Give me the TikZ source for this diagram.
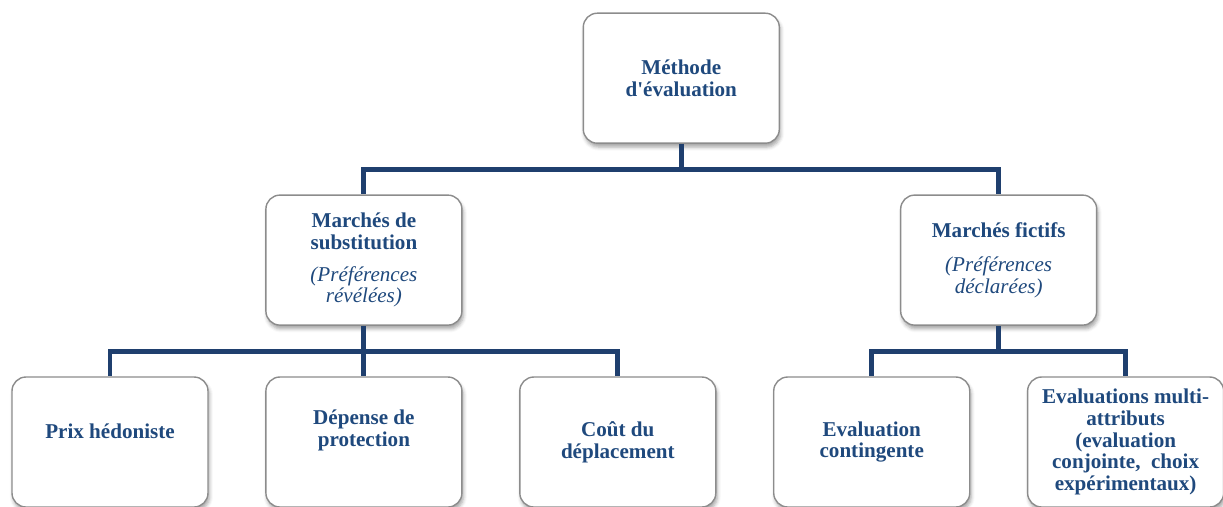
\documentclass[tikz,border=0pt]{standalone}
\usepackage{fontspec}
\setmainfont{Liberation Serif}
\usepackage{xcolor}
\usepackage{tikz}
\usetikzlibrary{positioning, calc, shadows.blur}
\definecolor{titleblue}{HTML}{1F497D}
\definecolor{linkblue}{HTML}{1F3F6E}
\definecolor{boxgray}{HTML}{8C8C8C}

\begin{document}
\begin{tikzpicture}[
        node distance=1.01cm and 1.13cm,
        box/.style={
            rectangle, rounded corners=0.28cm, draw=boxgray, line width=0.8pt,
            fill=white, text=titleblue,
            minimum width=3.92cm, minimum height=2.6cm,
            align=center, font=\fontsize{12}{12.4}\selectfont\bfseries,
            blur shadow={shadow xshift=0.8pt, shadow yshift=-2.2pt,
                shadow blur radius=2pt, shadow opacity=35},
        },
        lifted/.style={text depth=#1},
        link/.style={draw=linkblue, line width=2.8pt},
    ]
        \useasboundingbox (0,0) rectangle (24.46,-10.12);

        % bottom row
        \node[box, lifted=0.45cm] (b1) at (2.2,-8.84) {Prix hédoniste};
        \node[box, lifted=0.55cm, right=of b1] (b2) {Dépense de\\protection};
        \node[box, right=of b2] (b3) {Coût du\\déplacement};
        \node[box, right=of b3] (b4) {Evaluation\\contingente};
        \node[box, right=of b4] (b5) {Evaluations multi-\\attributs\\(evaluation\\conjointe,~ choix\\expérimentaux)};

        % middle row
        \node[box, above=of b2] (ml) {Marchés de\\substitution\\[0.2cm]
            {\mdseries\itshape (Préférences}\\{\mdseries\itshape révélées)}};
        \coordinate (r45) at ($(b4.north)!0.5!(b5.north)$);
        \node[box, above=of r45] (mr) {Marchés fictifs\\[0.25cm]
            {\mdseries\itshape (Préférences}\\{\mdseries\itshape déclarées)}};

        % top
        \coordinate (rm) at ($(ml.north)!0.5!(mr.north)$);
        \node[box, above=of rm] (top) {Méthode\\d\textquotesingle évaluation};

        % connectors
        \coordinate (j1) at ($(top.south)+(0,-0.52)$);
        \coordinate (j2) at ($(ml.south)+(0,-0.52)$);
        \coordinate (j3) at ($(mr.south)+(0,-0.52)$);
        \draw[link] (top) -- (j1) -| (ml);
        \draw[link] (j1) -| (mr);
        \draw[link] (ml) -- (b2);
        \draw[link] (j2) -| (b1);
        \draw[link] (j2) -| (b3);
        \draw[link] (mr) -- (j3) -| (b4);
        \draw[link] (j3) -| (b5);
    \end{tikzpicture}
\end{document}
